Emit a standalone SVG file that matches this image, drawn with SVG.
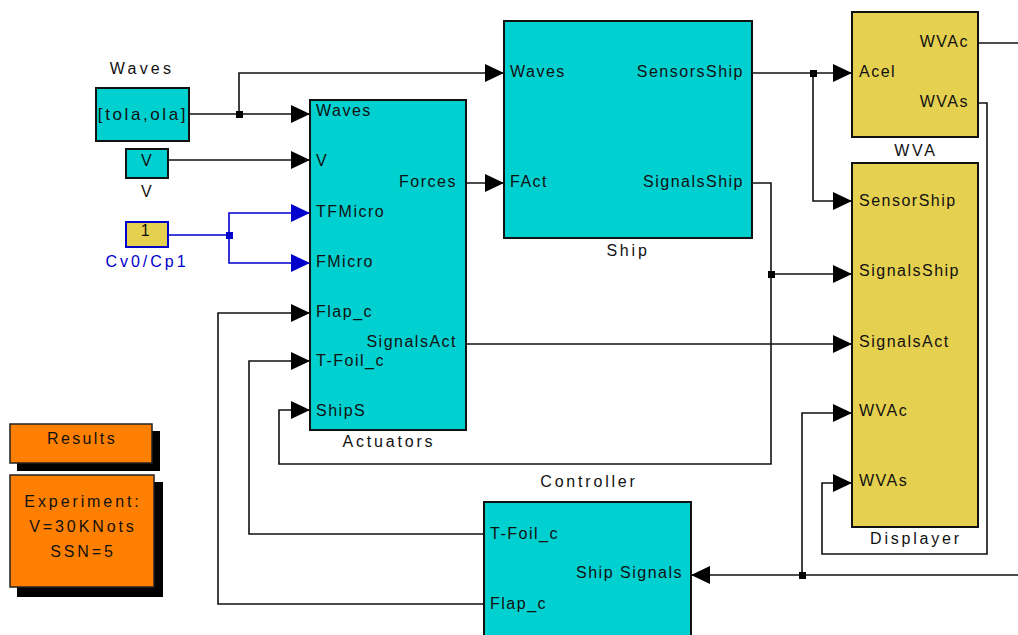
<svg xmlns="http://www.w3.org/2000/svg" width="1018" height="635" viewBox="0 0 1018 635">
<style>
text{font-family:"Liberation Sans",Arial,sans-serif;font-size:16px;fill:#111;letter-spacing:1.5px}
.lbl{letter-spacing:2.8px}
.blk{fill:#00D0D0;stroke:#111;stroke-width:2}
.yel{fill:#E6D050;stroke:#111;stroke-width:2}
.org{fill:#FF8000;stroke:#222;stroke-width:1.5}
.sh{fill:#000}
.ln{fill:none;stroke:#111;stroke-width:1.6}
.bl{fill:none;stroke:#0000CC;stroke-width:1.6}
.e{text-anchor:end}
.m{text-anchor:middle}
</style>
<defs>
<marker id="a" markerUnits="userSpaceOnUse" markerWidth="20" markerHeight="18" refX="19" refY="9" orient="auto"><path d="M0,0 L19,9 L0,18 z" fill="#000"/></marker>
<marker id="ab" markerUnits="userSpaceOnUse" markerWidth="20" markerHeight="18" refX="19" refY="9" orient="auto"><path d="M0,0 L19,9 L0,18 z" fill="#0000CC"/></marker>
</defs>
<rect width="1018" height="635" fill="#fff"/>

<g id="connectors">
<path class="ln" d="M189,114 H310" marker-end="url(#a)"/>
<path class="ln" d="M239,114 V73 H504" marker-end="url(#a)"/>
<path class="ln" d="M168,160 H310" marker-end="url(#a)"/>
<path class="bl" d="M168,235 H229 V213 H310" marker-end="url(#ab)"/>
<path class="bl" d="M229,235 V263 H310" marker-end="url(#ab)"/>
<path class="ln" d="M466,183 H504" marker-end="url(#a)"/>
<path class="ln" d="M752,73 H852" marker-end="url(#a)"/>
<path class="ln" d="M813,73 V201 H852" marker-end="url(#a)"/>
<path class="ln" d="M752,183 H771 V464 H279 V410 H310" marker-end="url(#a)"/>
<path class="ln" d="M771,274 H852" marker-end="url(#a)"/>
<path class="ln" d="M466,344 H852" marker-end="url(#a)"/>
<path class="ln" d="M978,43 H1018"/>
<path class="ln" d="M978,103 H987 V554 H822 V483 H852" marker-end="url(#a)"/>
<path class="ln" d="M1018,575 H691" marker-end="url(#a)"/>
<path class="ln" d="M802,575 V413 H852" marker-end="url(#a)"/>
<path class="ln" d="M484,534 H249 V361 H310" marker-end="url(#a)"/>
<path class="ln" d="M484,604 H218 V313 H310" marker-end="url(#a)"/>
<rect x="236" y="111" width="7" height="7" fill="#000"/>
<rect x="226" y="232" width="7" height="7" fill="#0000CC"/>
<rect x="810" y="70" width="7" height="7" fill="#000"/>
<rect x="768" y="271" width="7" height="7" fill="#000"/>
<rect x="799" y="572" width="7" height="7" fill="#000"/>
</g>

<g id="waves">
<rect class="blk" x="96" y="88" width="93" height="53"/>
<text x="143" y="120" class="m" style="font-size:17px;letter-spacing:2.6px">[tola,ola]</text>
<text x="142" y="74" class="m" style="letter-spacing:3.2px">Waves</text>
</g>

<g id="v">
<rect class="blk" x="126" y="149" width="42" height="29"/>
<text x="147" y="166" class="m">V</text>
<text x="147" y="197" class="m">V</text>
</g>

<g id="cv0">
<rect x="126" y="222" width="42" height="25" fill="#E6D050" stroke="#0000CC" stroke-width="2"/>
<text x="146" y="236" class="m">1</text>
<text x="147" y="267" class="m" style="fill:#0000CC;letter-spacing:3px">Cv0/Cp1</text>
</g>

<g id="actuators">
<rect class="blk" x="310" y="100" width="156" height="330"/>
<text x="316" y="116">Waves</text>
<text x="316" y="166">V</text>
<text x="316" y="217">TFMicro</text>
<text x="316" y="267">FMicro</text>
<text x="316" y="317">Flap_c</text>
<text x="316" y="366">T-Foil_c</text>
<text x="316" y="416">ShipS</text>
<text x="457" y="187" class="e">Forces</text>
<text x="457" y="347" class="e">SignalsAct</text>
<text x="389" y="447" class="m lbl">Actuators</text>
</g>

<g id="ship">
<rect class="blk" x="504" y="21" width="248" height="217"/>
<text x="510" y="77">Waves</text>
<text x="510" y="187">FAct</text>
<text x="744" y="77" class="e">SensorsShip</text>
<text x="744" y="187" class="e">SignalsShip</text>
<text x="628" y="256" class="m lbl">Ship</text>
</g>

<g id="wva">
<rect class="yel" x="852" y="12" width="126" height="125"/>
<text x="859" y="77">Acel</text>
<text x="969" y="47" class="e">WVAc</text>
<text x="969" y="107" class="e">WVAs</text>
<text x="916" y="156" class="m lbl">WVA</text>
</g>

<g id="displayer">
<rect class="yel" x="852" y="163" width="126" height="364"/>
<text x="859" y="206">SensorShip</text>
<text x="859" y="276">SignalsShip</text>
<text x="859" y="347">SignalsAct</text>
<text x="859" y="416">WVAc</text>
<text x="859" y="486">WVAs</text>
<text x="916" y="544" class="m lbl">Displayer</text>
</g>

<g id="controller">
<rect class="blk" x="484" y="502" width="207" height="140"/>
<text x="490" y="539">T-Foil_c</text>
<text x="490" y="609">Flap_c</text>
<text x="683" y="578" class="e">Ship Signals</text>
<text x="589" y="487" class="m lbl">Controller</text>
</g>

<g id="results">
<rect class="sh" x="17" y="431" width="143" height="40"/>
<rect class="org" x="10" y="424" width="142" height="39"/>
<text x="82" y="444" class="m" style="letter-spacing:2.4px">Results</text>
</g>

<g id="experiment">
<rect class="sh" x="17" y="482" width="146" height="115"/>
<rect class="org" x="10" y="475" width="144" height="112"/>
<text x="83" y="507" class="m" style="letter-spacing:2.9px">Experiment:</text>
<text x="83" y="532" class="m" style="letter-spacing:2.9px">V=30KNots</text>
<text x="83" y="557" class="m" style="letter-spacing:2.9px">SSN=5</text>
</g>
</svg>
